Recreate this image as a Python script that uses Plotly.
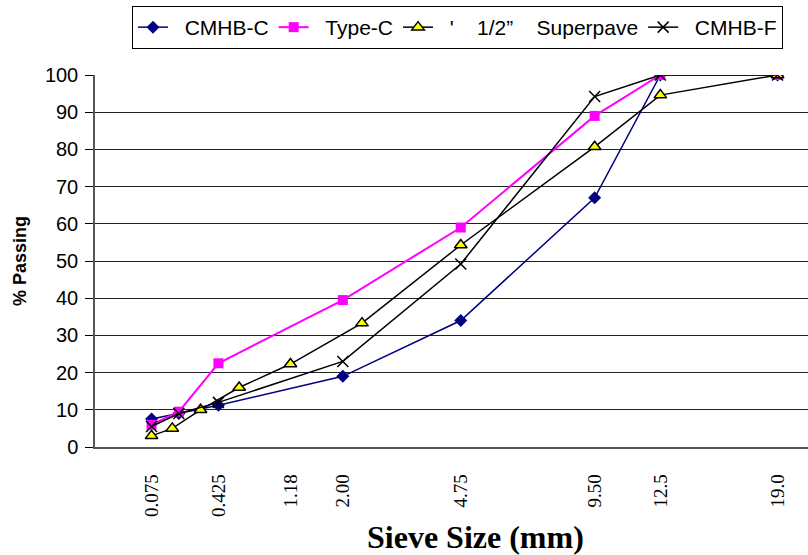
import plotly.graph_objects as go

# Sieve sizes (mm) for each series and % passing
cmhb_c_sizes = [0.075, 0.18, 0.425, 2.00, 4.75, 9.50, 12.5, 19.0]
cmhb_c_pass = [7.5, 9.0, 11.2, 19.0, 34.0, 67.0, 100.0, 100.0]

type_c_sizes = [0.075, 0.18, 0.425, 2.00, 4.75, 9.50, 12.5, 19.0]
type_c_pass = [6.0, 9.5, 22.5, 39.5, 59.0, 89.0, 100.0, 100.0]

superpave_sizes = [0.075, 0.15, 0.30, 0.60, 1.18, 2.36, 4.75, 9.50, 12.5, 19.0]
superpave_pass = [3.0, 5.0, 10.0, 16.0, 22.3, 33.3, 54.3, 80.7, 94.6, 100.0]

cmhb_f_sizes = [0.075, 0.18, 0.425, 2.00, 4.75, 9.50, 12.5, 19.0]
cmhb_f_pass = [5.5, 9.0, 12.0, 23.0, 49.2, 94.2, 100.0, 100.0]

tick_sizes = [0.075, 0.425, 1.18, 2.00, 4.75, 9.50, 12.5, 19.0]
tick_labels = ["0.075", "0.425", "1.18", "2.00", "4.75", "9.50", "12.5", "19.0"]

POW = 0.45


def p(v):
    return [s ** POW for s in v]


NB = "\u00a0"

fig = go.Figure()
fig.add_trace(go.Scatter(
    x=p(cmhb_c_sizes), y=cmhb_c_pass, name=NB * 2 + "CMHB-C", mode="lines+markers",
    line=dict(color="#000080", width=1.5),
    marker=dict(symbol="diamond", size=10, color="#000080")))
fig.add_trace(go.Scatter(
    x=p(type_c_sizes), y=type_c_pass, name=NB * 2 + "Type-C", mode="lines+markers",
    line=dict(color="#FF00FF", width=2),
    marker=dict(symbol="square", size=10, color="#FF00FF")))
fig.add_trace(go.Scatter(
    x=p(superpave_sizes), y=superpave_pass,
    name=NB * 2 + "'" + NB * 4 + "1/2\u201d" + NB * 4 + "Superpave",
    mode="lines+markers",
    line=dict(color="#000000", width=1.5),
    marker=dict(symbol="triangle-up", size=11, color="#FFFF00",
                line=dict(color="#000000", width=1.5))))
fig.add_trace(go.Scatter(
    x=p(cmhb_f_sizes), y=cmhb_f_pass, name=NB * 2 + "CMHB-F", mode="lines+markers",
    line=dict(color="#000000", width=1.5),
    marker=dict(symbol="x-thin-open", size=11, color="#000000",
                line=dict(color="#000000", width=1.5))))

fig.update_layout(
    width=808, height=555,
    margin=dict(l=95, r=0, t=75, b=108),
    paper_bgcolor="white", plot_bgcolor="white",
    font=dict(family="Arial, Liberation Sans, sans-serif", color="black"),
    legend=dict(
        orientation="h", xref="container", yref="container",
        x=132 / 808, xanchor="left", y=1 - 6 / 555, yanchor="top",
        bordercolor="black", borderwidth=1, bgcolor="white",
        font=dict(size=21, family="Arial, Liberation Sans, sans-serif"),
        itemwidth=30, tracegroupgap=0,
    ),
    showlegend=True,
    annotations=[dict(
        text="<b>Sieve Size (mm)</b>", xref="paper", yref="paper",
        x=(475 - 95) / 713, y=-(537 - 447) / 372,
        xanchor="center", yanchor="middle", showarrow=False,
        font=dict(family="Liberation Serif, Times New Roman, serif", size=32),
    )],
)

fig.update_xaxes(
    range=[0, 3.93],
    tickmode="array", tickvals=p(tick_sizes), ticktext=tick_labels,
    tickangle=-90, ticks="",
    tickfont=dict(family="Liberation Serif, Times New Roman, serif", size=19),
    ticklabelstandoff=18,
    showgrid=False, zeroline=False,
    showline=True, linecolor="#555555", linewidth=1.5,
)
fig.update_yaxes(
    range=[0, 100], dtick=10,
    ticks="outside", ticklen=8, tickcolor="black", tickwidth=1,
    tickfont=dict(size=20),
    ticklabelstandoff=3,
    showgrid=True, gridcolor="#222222", gridwidth=1,
    zeroline=False,
    showline=True, linecolor="#555555", linewidth=1.5,
    title=dict(text="<b>% Passing</b>", standoff=14, font=dict(size=18)),
)

fig.write_html("out.html")
